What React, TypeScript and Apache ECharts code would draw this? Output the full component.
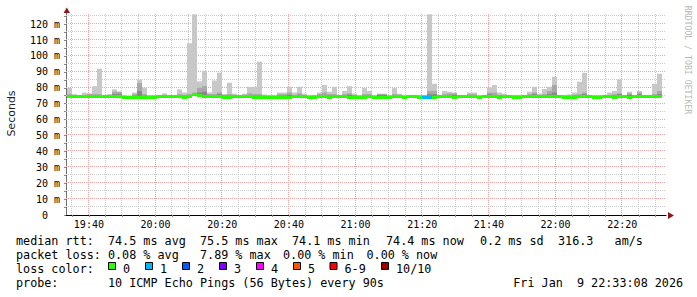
import React, { useEffect, useRef } from "react";
import * as echarts from "echarts";

// time in minutes after 19:00
const START_MIN = 33 + 8 / 60; // 19:33:08
const END_MIN = START_MIN + 180; // 22:33:08
const BIN_START = START_MIN + 0.3;
const BIN_STEP = 1.5; // 90 s
const Y_MAX = 127;

const smokeMax = [
  80, 76, 75.5, 77, 76.5, 81, 92, 75.5, 76, 79,
  77.5, 75.5, 75, 77, 85.2, 80, 75, 75, 75.5, 76.5,
  75.5, 75.5, 79, 77, 108, 126.2, 84, 90.7, 77, 84.6,
  89.5, 76, 83.2, 76.3, 75, 76.3, 80.6, 80.6, 96.4, 75.8,
  75, 75, 77, 77, 80.6, 77, 80.6, 76.3, 75, 75.5,
  77, 81.7, 77.5, 80.6, 75.5, 78, 81, 76.3, 75, 79.8,
  78, 75, 76.3, 76.3, 75, 79.8, 76.3, 75, 75, 75.5,
  75.5, 75.5, 126.2, 82.5, 75.5, 78, 77.5, 77, 75, 75,
  77, 77, 75, 75.5, 80.2, 81.7, 77, 76.3, 75.5, 75.5,
  75.5, 75, 77.5, 80.6, 76.3, 79.2, 80.6, 86.9, 75, 75.5,
  75.8, 77, 83.8, 89.4, 75, 75, 75, 75, 77, 78,
  85.2, 75, 77.5, 75, 78, 75, 75.5, 82.5, 88.8,
];
const smokeMid = [
  76, 75, 75, 75.5, 76, 76, 76, 75, 75.5, 77.5,
  77.5, 75, 74.5, 76, 83, 76, 75, 75, 75, 75.5,
  75, 75, 76, 75.5, 76, 77, 80, 81, 76, 76,
  77, 75.5, 76, 75.5, 75, 75.5, 76.5, 76, 76, 75,
  75, 75, 76, 76, 77, 75.5, 76.5, 75.5, 75, 75,
  76, 77, 76, 76, 75, 76, 76.5, 75.5, 75, 76,
  76, 75, 76, 76, 75, 76, 75.5, 75, 75, 75,
  75, 75, 78, 78, 75, 76, 76.5, 76.5, 75, 75,
  76, 76, 75, 75, 77, 77, 75.5, 75.5, 75, 75,
  75, 75, 76, 77, 75.5, 76, 78, 81.7, 75, 75,
  75, 75.5, 76, 77, 75, 75, 75, 75, 75.5, 76,
  76.5, 75, 76.5, 75, 77, 75, 75, 76, 78,
];
const smokeDark = [
  75, 75, 75, 75, 75.5, 75.5, 75, 75, 75, 76,
  76, 74.5, 74.5, 75, 78, 75, 75, 75, 75, 75,
  75, 75, 75, 75, 75.5, 76, 77, 77.5, 75, 75,
  76, 75, 75, 75, 75, 75, 75.5, 75, 75, 75,
  75, 75, 75, 75, 75.5, 75, 75.5, 75, 75, 75,
  75.5, 75.5, 75, 75, 75, 75, 75.5, 75, 75, 75,
  75, 75, 75.5, 75.5, 75, 75, 75, 75, 75, 75,
  75, 75, 76, 76, 75, 75, 75.5, 75.5, 75, 75,
  75, 75, 75, 75, 76, 75.5, 75, 75, 75, 75,
  75, 75, 75, 76, 75, 75, 76, 77, 75, 75,
  75, 75, 75, 76, 75, 75, 75, 75, 75, 75,
  76, 75, 75.5, 75, 76, 75, 75, 75, 76,
];
const medianRtt = [
  74.6, 74.6, 74.6, 74.6, 74.6, 74.6, 74.6, 74.6, 74.6, 74.6,
  74.6, 74.1, 74.1, 74.1, 74.1, 74.1, 74.1, 74.1, 74.6, 74.6,
  74.6, 74.6, 74.6, 74.1, 74.6, 75.5, 75.3, 74.6, 74.6, 74.6,
  74.6, 74.1, 74.1, 74.6, 74.6, 74.6, 74.6, 74.1, 74.1, 74.1,
  74.1, 74.1, 74.1, 74.1, 74.1, 74.6, 74.6, 74.6, 74.1, 74.1,
  74.6, 74.6, 74.1, 74.6, 74.6, 74.6, 74.1, 74.1, 74.1, 74.1,
  74.6, 74.1, 74.1, 74.1, 74.1, 74.6, 74.6, 74.1, 74.6, 74.6,
  74.1, 74.1, 74.1, 74.1, 74.6, 74.6, 74.6, 74.1, 74.6, 74.6,
  74.6, 74.6, 74.1, 74.6, 74.6, 74.6, 74.1, 74.6, 74.6, 74.1,
  74.1, 74.6, 74.6, 74.6, 74.6, 74.6, 74.6, 74.6, 74.6, 74.1,
  74.1, 74.1, 74.6, 74.6, 74.6, 74.1, 74.1, 74.6, 74.6, 74.1,
  74.6, 74.6, 74.1, 74.6, 74.6, 74.6, 74.6, 74.6, 74.4,
];
const lossCount = [
  0, 0, 0, 0, 0, 0, 0, 0, 0, 0,
  0, 0, 0, 0, 0, 0, 0, 0, 0, 0,
  0, 0, 0, 0, 0, 0, 0, 0, 0, 0,
  0, 0, 0, 0, 0, 0, 0, 0, 0, 0,
  0, 0, 0, 0, 0, 0, 0, 0, 0, 0,
  0, 0, 0, 0, 0, 0, 0, 0, 0, 0,
  0, 0, 0, 0, 0, 0, 0, 0, 0, 0,
  0, 1, 1, 0, 0, 0, 0, 0, 0, 0,
  0, 0, 0, 0, 0, 0, 0, 0, 0, 0,
  0, 0, 0, 0, 0, 0, 0, 0, 0, 0,
  0, 0, 0, 0, 0, 0, 0, 0, 0, 0,
  0, 0, 0, 0, 0, 0, 0, 0, 0,
];

const timeLabels = [40, 60, 80, 100, 120, 140, 160, 180, 200];
const yLabelValues = [0, 10, 20, 30, 40, 50, 60, 70, 80, 90, 100, 110, 120];
const lossLabels = ["0", "1", "2", "3", "4", "5", "6-9", "10/10"];
const lossColors = ["#26ff00", "#00b8ff", "#0059ff", "#7e00ff", "#ff00ff", "#ff5500", "#ff0000", "#a10000"];

const rttItems = ["median rtt:  74.5 ms avg", "75.5 ms max", "74.1 ms min", "74.4 ms now", "0.2 ms sd", "316.3   am/s"];
const rttX = [16, 200, 292, 386, 480, 558];
const plossItems = ["packet loss: 0.08 % avg", "7.89 % max", "0.00 % min", "0.00 % now"];
const plossX = [16, 200, 283, 366.5];
const lossBoxX = [108, 145, 182, 219, 256, 293, 329.5, 381];
const probeText = "probe:       10 ICMP Echo Pings (56 Bytes) every 90s";
const dateText = "Fri Jan  9 22:33:08 2026";

const MONO = "'DejaVu Sans Mono', monospace";
const nb = (s: string) => s.replace(/ /g, "\u00a0");
const fmtTime = (m: number) => {
  const h = 19 + Math.floor(m / 60);
  const mm = Math.round(m % 60);
  return `${h}:${mm < 10 ? "0" + mm : mm}`;
};

export default function App() {
  const ref = useRef<HTMLDivElement>(null);
  useEffect(() => {
    const chart = echarts.init(ref.current!, null, { renderer: "svg" });

    const minorX: number[] = [];
    for (let t = 35; t < END_MIN; t += 5) minorX.push(t);
    const minorY: number[] = [];
    for (let v = 5; v < Y_MAX; v += 5) minorY.push(v);
    const gridData: number[][] = [];
    minorY.filter((v) => v % 10 !== 0).forEach((v) => gridData.push([v, 0, 0]));
    minorX.filter((t) => t % 20 !== 0).forEach((t) => gridData.push([t, 1, 0]));
    minorY.filter((v) => v % 10 === 0).forEach((v) => gridData.push([v, 0, 1]));
    minorX.filter((t) => t % 20 === 0).forEach((t) => gridData.push([t, 1, 1]));

    const smokeData = smokeMax.map((mx, i) => [
      BIN_START + i * BIN_STEP,
      BIN_START + (i + 1) * BIN_STEP,
      medianRtt[i],
      mx,
      smokeMid[i],
      smokeDark[i],
    ]);
    const medData = medianRtt.map((m, i) => [
      BIN_START + i * BIN_STEP,
      BIN_START + (i + 1) * BIN_STEP,
      m,
      lossCount[i],
    ]);

    const graphic: any[] = [];
    graphic.push({ type: "polygon", shape: { points: [[66.8, 7.5], [63.5, 13], [70, 13]] }, style: { fill: "#8b1a1a" }, z: 100 });
    graphic.push({ type: "polygon", shape: { points: [[668, 212], [674, 215.5], [668, 219]] }, style: { fill: "#8b1a1a" }, z: 100 });
    graphic.push({
      type: "text", x: 11, y: 113.5, rotation: Math.PI / 2,
      style: { text: "Seconds", fill: "#222", font: "11px 'DejaVu Sans', sans-serif", align: "center", verticalAlign: "middle" },
    });
    graphic.push({
      type: "text", x: 687.5, y: 60, rotation: -Math.PI / 2,
      style: { text: nb("RRDTOOL / TOBI OETIKER"), fill: "#b8b8b8", font: `8.2px ${MONO}`, align: "center", verticalAlign: "middle" },
    });
    const legendFont = `11.75px ${MONO}`;
    const addText = (s: string, x: number, y: number) =>
      graphic.push({ type: "text", x, y, style: { text: nb(s), fill: "#000", font: legendFont, align: "left", verticalAlign: "middle" } });
    rttItems.forEach((s, i) => addText(s, rttX[i], 241));
    plossItems.forEach((s, i) => addText(s, plossX[i], 255));
    addText("loss color:", 16, 269);
    lossLabels.forEach((s, i) => {
      graphic.push({
        type: "rect", shape: { x: lossBoxX[i] + 0.5, y: 262.5, width: 7, height: 7 },
        style: { fill: lossColors[i], stroke: "#000", lineWidth: 1 },
      });
      addText(s, lossBoxX[i] + 15, 269);
    });
    addText(probeText, 16, 283);
    addText(dateText, 513.3, 283);

    const option: any = {
      animation: false,
      backgroundColor: "#fff",
      grid: { left: 66, right: 31, top: 13, bottom: 82, containLabel: false },
      xAxis: {
        type: "value",
        min: START_MIN,
        max: END_MIN,
        axisLine: { show: true, lineStyle: { color: "#000", width: 1 } },
        axisTick: { show: true, customValues: minorX, length: 2, lineStyle: { color: "#888" } },
        axisLabel: {
          customValues: timeLabels,
          formatter: (v: number) => fmtTime(v),
          fontFamily: MONO, fontSize: 10, color: "#000", margin: 4,
        },
        splitLine: { show: false },
      },
      yAxis: {
        type: "value",
        min: 0,
        max: Y_MAX,
        axisLine: { show: true, lineStyle: { color: "#707070", width: 1 } },
        axisTick: { show: true, customValues: [0, ...minorY], length: 2, lineStyle: { color: "#888" } },
        axisLabel: {
          customValues: yLabelValues,
          formatter: (v: number) => (v === 0 ? "0\u00a0\u00a0" : `${v}\u00a0m`),
          fontFamily: MONO, fontSize: 10, color: "#000", margin: 6,
        },
        splitLine: { show: false },
      },
      graphic,
      series: [
        {
          type: "custom",
          name: "grid",
          z: 1,
          silent: true,
          data: gridData,
          renderItem: (_p: any, api: any) => {
            const v = api.value(0), vert = api.value(1), major = api.value(2);
            let x1, y1, x2, y2;
            if (vert) {
              const a = api.coord([v, 0]);
              const b = api.coord([v, Y_MAX]);
              x1 = x2 = Math.round(a[0]) - 0.5;
              y1 = a[1];
              y2 = b[1];
            } else {
              const a = api.coord([START_MIN, v]);
              const b = api.coord([END_MIN, v]);
              y1 = y2 = Math.round(a[1]) - 0.5;
              x1 = a[0];
              x2 = b[0];
            }
            return {
              type: "line",
              shape: { x1, y1, x2, y2 },
              style: { stroke: major ? "#eba3a3" : "#c9c9c9", lineWidth: 1, lineDash: [1, 1] },
            };
          },
        },
        {
          type: "custom",
          name: "smoke",
          z: 2,
          silent: true,
          data: smokeData,
          encode: { x: [0, 1], y: [2, 3] },
          renderItem: (_p: any, api: any) => {
            const t0 = api.value(0), t1 = api.value(1), lo = api.value(2);
            const layers: [number, string][] = [
              [api.value(3), "#c8c8c8"],
              [api.value(4), "#a8a8a8"],
              [api.value(5), "#888888"],
            ];
            return {
              type: "group",
              children: layers
                .filter(([top]) => top > lo)
                .map(([top, color]) => {
                  const p0 = api.coord([t0, top]);
                  const p1 = api.coord([t1, lo]);
                  return {
                    type: "rect",
                    shape: { x: p0[0], y: p0[1], width: p1[0] - p0[0], height: p1[1] - p0[1] },
                    style: { fill: color },
                  };
                }),
            };
          },
        },
        {
          type: "custom",
          name: "median",
          z: 3,
          silent: true,
          data: medData,
          encode: { x: [0, 1], y: 2 },
          renderItem: (_p: any, api: any) => {
            const t0 = api.value(0), t1 = api.value(1), m = api.value(2), l = api.value(3);
            const p0 = api.coord([t0, m]);
            const p1 = api.coord([t1, m]);
            const color = l >= 10 ? lossColors[7] : l >= 6 ? lossColors[6] : lossColors[l];
            return {
              type: "rect",
              shape: { x: p0[0], y: Math.round(p0[1] - 1.5), width: p1[0] - p0[0], height: 3 },
              style: { fill: color },
            };
          },
        },
      ],
    };
    chart.setOption(option);
    return () => chart.dispose();
  }, []);
  return (
    <div
      ref={ref}
      style={{ position: "fixed", left: 0, top: 0, width: 697, height: 297, background: "#fff" }}
    />
  );
}
